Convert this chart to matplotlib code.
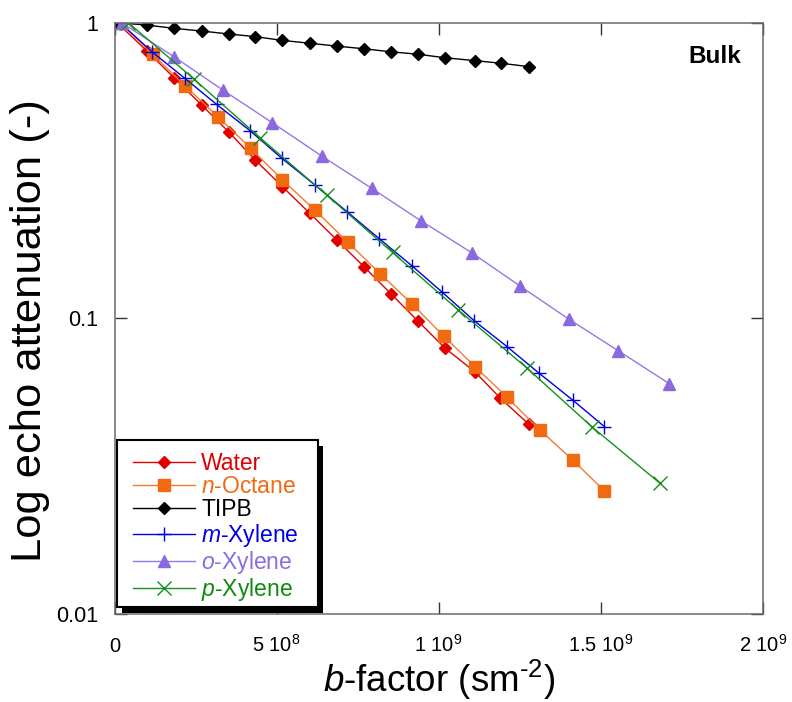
import matplotlib
matplotlib.use("Agg")
import matplotlib.pyplot as plt
from matplotlib.patches import Rectangle
from matplotlib.transforms import IdentityTransform

plt.rcParams['font.family'] = ['Liberation Sans', 'DejaVu Sans']
plt.rcParams['mathtext.fontset'] = 'custom'
plt.rcParams['mathtext.rm'] = 'Liberation Sans'
plt.rcParams['mathtext.it'] = 'Liberation Sans:italic'
plt.rcParams['mathtext.bf'] = 'Liberation Sans:bold'

# ---- data (b-factor in 1e9 s m^-2, echo attenuation) ----
water_x = [0.0077, 0.0993, 0.1835, 0.269, 0.352, 0.434, 0.518, 0.603, 0.686, 0.770, 0.853, 0.936, 1.019, 1.112, 1.189, 1.277]
water_y = [1.0, 0.804, 0.651, 0.526, 0.427, 0.343, 0.2785, 0.226, 0.1838, 0.149, 0.1207, 0.0977, 0.0792, 0.0657, 0.0537, 0.0438]

octane_x = [0.017, 0.118, 0.218, 0.319, 0.420, 0.518, 0.618, 0.719, 0.820, 0.918, 1.015, 1.112, 1.211, 1.312, 1.413, 1.511]
octane_y = [1.0, 0.782, 0.6105, 0.4806, 0.3757, 0.2935, 0.2322, 0.181, 0.141, 0.1116, 0.087, 0.0685, 0.0539, 0.0418, 0.0331, 0.026]

tipb_x = [0.0077, 0.0993, 0.1835, 0.269, 0.352, 0.434, 0.518, 0.603, 0.686, 0.770, 0.853, 0.936, 1.019, 1.112, 1.192, 1.278]
tipb_y = [1.0, 0.982, 0.957, 0.937, 0.916, 0.897, 0.871, 0.852, 0.833, 0.816, 0.797, 0.782, 0.761, 0.744, 0.729, 0.710]

mxyl_x = [0.017, 0.115, 0.217, 0.315, 0.418, 0.516, 0.618, 0.718, 0.817, 0.917, 1.011, 1.109, 1.211, 1.310, 1.413, 1.511]
mxyl_y = [1.0, 0.798, 0.648, 0.529, 0.431, 0.3475, 0.2823, 0.2288, 0.1855, 0.1504, 0.1223, 0.098, 0.080, 0.065, 0.0528, 0.0429]

oxyl_x = [0.022, 0.1835, 0.3337, 0.4867, 0.639, 0.7932, 0.9443, 1.1016, 1.2506, 1.4017, 1.5537, 1.711]
oxyl_y = [1.0, 0.767, 0.592, 0.4586, 0.3538, 0.275, 0.2137, 0.1665, 0.1284, 0.0991, 0.0775, 0.060]

pxyl_x = [0.0426, 0.2461, 0.4487, 0.6544, 0.8574, 1.0603, 1.2731, 1.4717, 1.6823]
pxyl_y = [1.0, 0.643, 0.408, 0.261, 0.1668, 0.1065, 0.0676, 0.0429, 0.0276]

x_ticks = [0, 0.5e9, 1.0e9, 1.5e9, 2.0e9]
x_ticklabels = ['0', r'5 10$^{8}$', r'1 10$^{9}$', r'1.5 10$^{9}$', r'2 10$^{9}$']
y_ticks = [0.01, 0.1, 1]
y_ticklabels = ['0.01', '0.1', '1']

series = [
    ("Water", water_x, water_y, dict(color='#e00000', marker='D', ms=6.3, mfc='#e00000', mec='#e00000')),
    (r"$\it{n}$-Octane", octane_x, octane_y, dict(color='#f47a30', marker='s', ms=9.3, mfc='#f26a10', mec='#f26a10')),
    ("TIPB", tipb_x, tipb_y, dict(color='black', marker='D', ms=6.5, mfc='black', mec='black')),
    (r"$\it{m}$-Xylene", mxyl_x, mxyl_y, dict(color='#0000e0', marker='+', ms=10, mew=1.0)),
    (r"$\it{o}$-Xylene", oxyl_x, oxyl_y, dict(color='#9479e2', marker='^', ms=9.3, mfc='#8a68de', mec='#8a68de')),
    (r"$\it{p}$-Xylene", pxyl_x, pxyl_y, dict(color='#14901a', marker='x', ms=9.5, mew=1.0)),
]
text_colors = ['#e00000', '#f26a10', 'black', '#0000e0', '#8a6ee0', '#108a10']

W, H = 792, 702
fig = plt.figure(figsize=(W / 100, H / 100), dpi=100)
L, R, T, B = 114.5, 763, 22.7, 613.5
ax = fig.add_axes([L / W, (H - B) / H, (R - L) / W, (B - T) / H])

for label, xs, ys, st in series:
    ax.plot([v * 1e9 for v in xs], ys, lw=1.0, label=label, **st)

ax.set_yscale('log')
ax.set_xlim(0, 2e9)
ax.set_ylim(0.01, 1)
ax.set_xticks(x_ticks)
ax.set_xticklabels(x_ticklabels)
ax.set_yticks(y_ticks)
ax.set_yticklabels(y_ticklabels)
ax.minorticks_off()
ax.tick_params(axis='both', which='major', direction='in', length=8.5, width=1.0,
               color='#333333', top=True, right=True)
ax.tick_params(axis='x', pad=27.5, labelsize=14.5)
ax.tick_params(axis='y', pad=11.5, labelsize=15.5)
for lbl in ax.get_xticklabels():
    lbl.set_va('baseline')
for sp in ax.spines.values():
    sp.set_color('#6a6a6a')
    sp.set_linewidth(1.1)

ax.set_xlabel(r'$\it{b}$-factor (sm$^{\text{-2}}$)', fontsize=26.5)
ax.xaxis.label.set_va('baseline')
ax.xaxis.set_label_coords(0.5, (B - 692) / (B - T))
ax.set_ylabel('Log echo attenuation (-)', fontsize=31.3)
ax.yaxis.label.set_va('center')
ax.yaxis.set_label_coords((30 - L) / (R - L), (B - 331) / (B - T))

ax.text((741 - L) / (R - L), (B - 63.3) / (B - T), 'Bulk', transform=ax.transAxes,
        ha='right', va='baseline', fontsize=17.5, fontweight='bold')

leg = ax.legend(loc='lower left', bbox_to_anchor=(8.5 / (R - L), 0.5 / (B - T)), fontsize=16.5,
                frameon=False, numpoints=1, handlelength=2.7,
                handletextpad=0.3, labelspacing=0.013, borderpad=0.42, borderaxespad=0.0)
leg.set_zorder(6)
for t, c in zip(leg.get_texts(), text_colors):
    t.set_color(c)

# legend frame with a hard black drop shadow
fig.canvas.draw()
bb = leg.get_window_extent()
fx0, fx1 = bb.x0 - 6, bb.x1 + 9
fy0, fy1 = bb.y0 + 6, bb.y1 + 2
shadow = Rectangle((fx0 + 5, fy0 - 5.5), fx1 - fx0, fy1 - fy0, transform=IdentityTransform(),
                   facecolor='black', edgecolor='none', zorder=4.8, clip_on=False)
frame = Rectangle((fx0, fy0), fx1 - fx0, fy1 - fy0, transform=IdentityTransform(),
                  facecolor='white', edgecolor='black', linewidth=1.5, zorder=4.9, clip_on=False)
ax.add_patch(shadow)
ax.add_patch(frame)

fig.savefig('out.png', dpi=100)
